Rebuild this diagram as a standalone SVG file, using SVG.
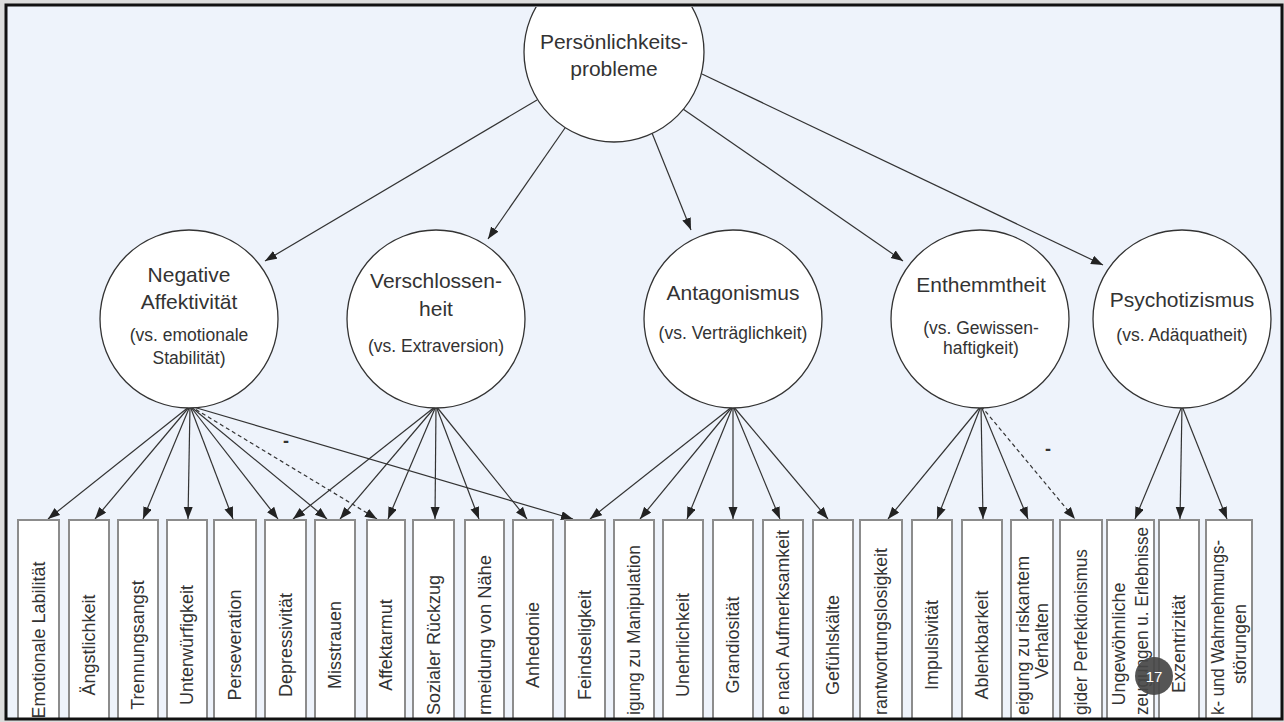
<svg xmlns="http://www.w3.org/2000/svg" width="1284" height="722" viewBox="0 0 1284 722">
<style>
.circ{fill:#fff;stroke:#333;stroke-width:1.3}
.box{fill:#fff;stroke:#8c8c8c;stroke-width:2}
.t{font-family:"Liberation Sans",Arial,sans-serif;fill:#333;text-anchor:middle}
.title{font-size:21px}
.sub{font-size:17.5px}
.bt{font-family:"Liberation Sans",Arial,sans-serif;fill:#333;font-size:18px;text-anchor:middle}
.bf{font-family:"Liberation Sans",Arial,sans-serif;fill:#333;font-size:18px;text-anchor:start}
.ln{stroke:#333;stroke-width:1.2;fill:none;marker-end:url(#ah)}
.dash{stroke-dasharray:4 3}
.minus{font-family:"Liberation Sans",Arial,sans-serif;fill:#333;font-size:18px;font-weight:bold;text-anchor:middle}
</style>
<defs>
<marker id="ah" markerUnits="userSpaceOnUse" markerWidth="13" markerHeight="10" refX="12" refY="4.5" orient="auto">
<path d="M0,0 L12,4.5 L0,9 z" fill="#222"/>
</marker>
<clipPath id="frame"><rect x="7" y="7" width="1274" height="711"/></clipPath>
</defs>
<rect x="0" y="0" width="1284" height="722" fill="#dcdcdc"/>
<rect x="6" y="5" width="1276" height="714" fill="#eef3fb"/>
<g clip-path="url(#frame)">
<g id="connectors">
<line class="ln" x1="537" y1="100" x2="265" y2="261"/>
<line class="ln" x1="565" y1="128" x2="488" y2="239"/>
<line class="ln" x1="652" y1="133" x2="691" y2="230"/>
<line class="ln" x1="683" y1="109" x2="903" y2="261"/>
<line class="ln" x1="702" y1="74" x2="1103" y2="265"/>
<line class="ln" x1="190" y1="406" x2="48" y2="519"/>
<line class="ln" x1="190" y1="406" x2="95" y2="519"/>
<line class="ln" x1="190" y1="406" x2="143" y2="519"/>
<line class="ln" x1="190" y1="406" x2="188" y2="519"/>
<line class="ln" x1="190" y1="406" x2="233" y2="519"/>
<line class="ln" x1="190" y1="406" x2="278" y2="519"/>
<line class="ln" x1="190" y1="406" x2="327" y2="519"/>
<line class="ln dash" x1="190" y1="406" x2="377" y2="519"/>
<line class="ln" x1="190" y1="406" x2="573" y2="519"/>
<line class="ln" x1="436" y1="406" x2="293" y2="519"/>
<line class="ln" x1="436" y1="406" x2="340" y2="519"/>
<line class="ln" x1="436" y1="406" x2="388" y2="519"/>
<line class="ln" x1="436" y1="406" x2="435" y2="519"/>
<line class="ln" x1="436" y1="406" x2="479" y2="519"/>
<line class="ln" x1="436" y1="406" x2="527" y2="519"/>
<line class="ln" x1="733" y1="406" x2="590" y2="519"/>
<line class="ln" x1="733" y1="406" x2="640" y2="519"/>
<line class="ln" x1="733" y1="406" x2="687" y2="519"/>
<line class="ln" x1="733" y1="406" x2="733" y2="519"/>
<line class="ln" x1="733" y1="406" x2="780" y2="519"/>
<line class="ln" x1="733" y1="406" x2="828" y2="519"/>
<line class="ln" x1="981" y1="406" x2="888" y2="519"/>
<line class="ln" x1="981" y1="406" x2="937" y2="519"/>
<line class="ln" x1="981" y1="406" x2="983" y2="519"/>
<line class="ln" x1="981" y1="406" x2="1028" y2="519"/>
<line class="ln dash" x1="981" y1="406" x2="1075" y2="519"/>
<line class="ln" x1="1182" y1="406" x2="1135" y2="519"/>
<line class="ln" x1="1182" y1="406" x2="1180" y2="519"/>
<line class="ln" x1="1182" y1="406" x2="1227" y2="519"/>
<text class="minus" x="286" y="447">-</text>
<text class="minus" x="1048" y="455">-</text>
</g>
<g id="n-top"><circle class="circ" cx="614" cy="52" r="90"/>
<text class="t title" x="614" y="49">Persönlichkeits-</text>
<text class="t title" x="614" y="76">probleme</text></g>
<g id="n-negaff"><circle class="circ" cx="189" cy="319" r="89"/>
<text class="t title" x="189" y="282">Negative</text>
<text class="t title" x="189" y="309">Affektivität</text>
<text class="t sub" x="189" y="341">(vs. emotionale</text>
<text class="t sub" x="189" y="364">Stabilität)</text></g>
<g id="n-verschl"><circle class="circ" cx="436" cy="319" r="89"/>
<text class="t title" x="436" y="288">Verschlossen-</text>
<text class="t title" x="436" y="316">heit</text>
<text class="t sub" x="436" y="352">(vs. Extraversion)</text></g>
<g id="n-antag"><circle class="circ" cx="733" cy="319" r="89"/>
<text class="t title" x="733" y="300">Antagonismus</text>
<text class="t sub" x="733" y="339">(vs. Verträglichkeit)</text></g>
<g id="n-enthemm"><circle class="circ" cx="980" cy="319" r="89"/>
<text class="t title" x="981" y="292">Enthemmtheit</text>
<text class="t sub" x="981" y="334">(vs. Gewissen-</text>
<text class="t sub" x="981" y="354">haftigkeit)</text></g>
<g id="n-psycho"><circle class="circ" cx="1182" cy="319" r="89"/>
<text class="t title" x="1182" y="307">Psychotizismus</text>
<text class="t sub" x="1182" y="341">(vs. Adäquatheit)</text></g>
<g id="b0"><rect class="box" x="18" y="520" width="41" height="220"/><text class="bt" transform="translate(44.5,640) rotate(-90)">Emotionale Labilität</text></g>
<g id="b1"><rect class="box" x="69" y="520" width="40" height="220"/><text class="bt" transform="translate(95,645) rotate(-90)">Ängstlichkeit</text></g>
<g id="b2"><rect class="box" x="118" y="520" width="40" height="220"/><text class="bt" transform="translate(144,645) rotate(-90)">Trennungsangst</text></g>
<g id="b3"><rect class="box" x="167" y="520" width="40" height="220"/><text class="bt" transform="translate(193,645) rotate(-90)">Unterwürfigkeit</text></g>
<g id="b4"><rect class="box" x="214" y="520" width="42" height="220"/><text class="bt" transform="translate(241,645) rotate(-90)">Perseveration</text></g>
<g id="b5"><rect class="box" x="265" y="520" width="41" height="220"/><text class="bt" transform="translate(291.5,645) rotate(-90)">Depressivität</text></g>
<g id="b6"><rect class="box" x="315" y="520" width="40" height="220"/><text class="bt" transform="translate(341,645) rotate(-90)">Misstrauen</text></g>
<g id="b7"><rect class="box" x="367" y="520" width="38" height="220"/><text class="bt" transform="translate(392,645) rotate(-90)">Affektarmut</text></g>
<g id="b8"><rect class="box" x="413" y="520" width="41" height="220"/><text class="bt" transform="translate(439.5,645) rotate(-90)">Sozialer Rückzug</text></g>
<g id="b9"><rect class="box" x="465" y="520" width="39" height="220"/><text class="bf" transform="translate(490.5,715) rotate(-90)" textLength="160" lengthAdjust="spacingAndGlyphs">rmeidung von Nähe</text></g>
<g id="b10"><rect class="box" x="513" y="520" width="40" height="220"/><text class="bt" transform="translate(539,645) rotate(-90)">Anhedonie</text></g>
<g id="b11"><rect class="box" x="565" y="520" width="40" height="220"/><text class="bt" transform="translate(591,645) rotate(-90)">Feindseligkeit</text></g>
<g id="b12"><rect class="box" x="614" y="520" width="40" height="220"/><text class="bf" transform="translate(640,715) rotate(-90)" textLength="170" lengthAdjust="spacingAndGlyphs">igung zu Manipulation</text></g>
<g id="b13"><rect class="box" x="663" y="520" width="40" height="220"/><text class="bt" transform="translate(689,645) rotate(-90)">Unehrlichkeit</text></g>
<g id="b14"><rect class="box" x="713" y="520" width="40" height="220"/><text class="bt" transform="translate(739,645) rotate(-90)">Grandiosität</text></g>
<g id="b15"><rect class="box" x="763" y="520" width="40" height="220"/><text class="bf" transform="translate(789,715) rotate(-90)" textLength="185" lengthAdjust="spacingAndGlyphs">e nach Aufmerksamkeit</text></g>
<g id="b16"><rect class="box" x="813" y="520" width="40" height="220"/><text class="bt" transform="translate(839,645) rotate(-90)">Gefühlskälte</text></g>
<g id="b17"><rect class="box" x="860" y="520" width="42" height="220"/><text class="bf" transform="translate(887,715) rotate(-90)" textLength="167" lengthAdjust="spacingAndGlyphs">rantwortungslosigkeit</text></g>
<g id="b18"><rect class="box" x="912" y="520" width="40" height="220"/><text class="bt" transform="translate(938,645) rotate(-90)">Impulsivität</text></g>
<g id="b19"><rect class="box" x="962" y="520" width="40" height="220"/><text class="bt" transform="translate(988,645) rotate(-90)">Ablenkbarkeit</text></g>
<g id="b20"><rect class="box" x="1011" y="520" width="42" height="220"/><text class="bf" transform="translate(1029,715) rotate(-90)" textLength="159" lengthAdjust="spacingAndGlyphs">eigung zu riskantem</text><text class="bt" transform="translate(1048,641) rotate(-90)">Verhalten</text></g>
<g id="b21"><rect class="box" x="1060" y="520" width="42" height="220"/><text class="bf" transform="translate(1087,715) rotate(-90)" textLength="166" lengthAdjust="spacingAndGlyphs">gider Perfektionismus</text></g>
<g id="b22"><rect class="box" x="1107" y="520" width="47" height="220"/><text class="bt" transform="translate(1125,644) rotate(-90)">Ungewöhnliche</text><text class="bf" transform="translate(1148,715) rotate(-90)" textLength="188" lengthAdjust="spacingAndGlyphs">zeugungen u. Erlebnisse</text></g>
<g id="b23"><rect class="box" x="1159" y="520" width="40" height="220"/><text class="bt" transform="translate(1185,644) rotate(-90)">Exzentrizität</text></g>
<g id="b24"><rect class="box" x="1206" y="520" width="46" height="220"/><text class="bf" transform="translate(1224,715) rotate(-90)" textLength="175" lengthAdjust="spacingAndGlyphs">k- und Wahrnehmungs-</text><text class="bt" transform="translate(1246,644) rotate(-90)">störungen</text></g>
<g id="badge"><circle cx="1154" cy="676" r="19" fill="#474747" fill-opacity="0.92"/>
<text x="1154" y="681.5" font-family="Liberation Sans, Arial, sans-serif" font-size="15" fill="#fff" text-anchor="middle">17</text></g>
</g>
<rect x="6" y="5" width="1276" height="714" fill="none" stroke="#111" stroke-width="3"/>
</svg>
